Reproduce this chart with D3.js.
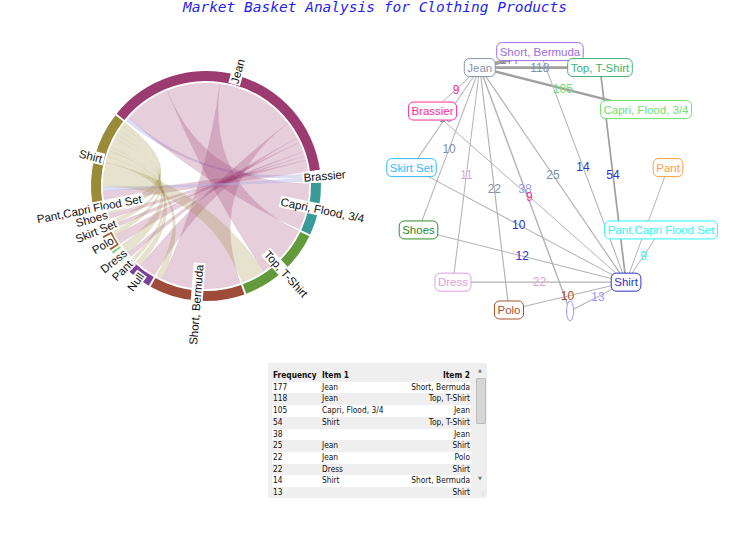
<!DOCTYPE html>
<html>
<head>
<meta charset="utf-8">
<script src="https://cdnjs.cloudflare.com/ajax/libs/d3/7.8.5/d3.min.js"></script>
<style>
  body { margin: 0; background: #fff; font-family: "Liberation Sans", Arial, sans-serif; }
  #wrap { position: relative; width: 754px; height: 550px; }
  #tbl { position: absolute; left: 268px; top: 363px; width: 219px; height: 135px;
         overflow: hidden; background: #efefef; }
  #tbl table { border-collapse: collapse; margin: 7px 0 0 4px; width: 199px;
               font-family: Tahoma, "DejaVu Sans Condensed", "DejaVu Sans", sans-serif; font-size: 8.3px; color: #111; }
  #tbl td, #tbl th { padding: 0 0 0 1px; height: 11.7px; line-height: 11.7px; white-space: nowrap; }
  #tbl th { font-weight: bold; text-align: left; }
  #tbl .r { text-align: right; padding-right: 1px; }
  #tbl tr.odd td { background: #fff; }
  #sb { position: absolute; left: 473px; top: 363px; width: 14px; height: 135px; background: #efefef; }
  #sb .thumb { position: absolute; left: 3px; top: 15px; width: 8px; height: 44px;
               background: #d6d6d6; border: 1px solid #bdbdbd; border-radius: 1px; }
  #sb .arr { position: absolute; left: 0; width: 14px; text-align: center; font-size: 5px; color: #777;
             font-family: "DejaVu Sans", sans-serif; }
  #sb .grip { position: absolute; right: 1px; bottom: 2px; font-size: 6px; color: #aaa;
              font-family: "DejaVu Sans", sans-serif; }
</style>
</head>
<body>
<div id="wrap">
  <svg id="chart" width="754" height="550"></svg>
  <div id="tbl"></div>
  <div id="sb">
    <div class="arr" style="top:4px">&#9650;</div>
    <div class="thumb"></div>
    <div class="arr" style="top:112px">&#9660;</div>
    <div class="grip">&#8942;</div>
  </div>
</div>
<script>
// chord group order (clockwise from the top-left)
const itemNames = ["Jean", "Brassier", "Capri, Flood, 3/4", "Top, T-Shirt", "Short, Bermuda", "",
  "Pant", "Dress", "Polo", "Skirt Set", "Shoes", "Pant,Capri Flood Set", "Shirt"];

// item pairs, sorted by frequency
const pairItem1 = ["Jean", "Jean", "Capri, Flood, 3/4", "Shirt", "", "Jean", "Jean", "Dress", "Shirt", "",
  "Shirt", "Dress", "Jean", "Shirt", "Polo", "Jean", "Brassier", "Brassier", "Pant,Capri Flood Set", "Pant"];
const pairItem2 = ["Short, Bermuda", "Top, T-Shirt", "Jean", "Top, T-Shirt", "Jean", "Shirt", "Polo", "Shirt", "Short, Bermuda", "Shirt",
  "Shoes", "Jean", "Shoes", "Skirt Set", "Shirt", "Skirt Set", "Jean", "Shirt", "Shirt", "Shirt"];
const pairFreq = [177, 118, 105, 54, 38, 25, 22, 22, 14, 13, 12, 11, 10, 10, 10, 10, 9, 9, 9, 8];

// chord arc colours
const chordColors = ["#9b3b6f", "#b4b4e6", "#3a9a98", "#62993a", "#9e4b3a", "#7e3f98",
  "#3a7fa8", "#8ed08e", "#a0622d", "#bcbddc", "#9ecae1", "#c7e9c0", "#9a8b3a"];
const chordLead = ["Brassier", "Jean", "Shirt"];

// network node colours and layout (vis-like unit coords)
const netColors = {
  "Jean": "#8595ab", "Short, Bermuda": "#9a6ee6", "Top, T-Shirt": "#3cb371", "Capri, Flood, 3/4": "#6fe06f",
  "Brassier": "#ff2e93", "Skirt Set": "#2fb9ff", "Pant": "#ff9d3c", "Shoes": "#2e8b2e",
  "Pant,Capri Flood Set": "#2ef6f6", "Dress": "#e09ee0", "Shirt": "#3030cc", "Polo": "#a0522d", "": "#9999ff"
};
const netLayout = {
  "Jean": [-0.43, -0.81], "Short, Bermuda": [-0.086, -0.92], "Top, T-Shirt": [0.257, -0.81],
  "Capri, Flood, 3/4": [0.52, -0.52], "Brassier": [-0.70, -0.51], "Skirt Set": [-0.82, -0.12],
  "Pant": [0.646, -0.12], "Shoes": [-0.78, 0.31], "Pant,Capri Flood Set": [0.606, 0.31],
  "Dress": [-0.583, 0.67], "Shirt": [0.406, 0.67], "Polo": [-0.263, 0.862], "": [0.086, 0.869]
};

const svg = d3.select("#chart");

svg.append("text")
  .attr("x", 375)
  .attr("y", 12)
  .attr("text-anchor", "middle")
  .style("font-family", "'DejaVu Sans Mono', monospace")
  .style("font-style", "italic")
  .style("font-size", "14.5px")
  .attr("fill", "#1f1ff0")
  .text("Market Basket Analysis for Clothing Products");

// ---- chord diagram ----
const n = itemNames.length;
const matrix = d3.range(n).map(() => new Array(n).fill(0));
pairFreq.forEach((f, i) => {
  const a = itemNames.indexOf(pairItem1[i]);
  const b = itemNames.indexOf(pairItem2[i]);
  matrix[a][b] = f;
  matrix[b][a] = f;
});

const rot = -51 * Math.PI / 180;
const outerR = 115, innerR = 105, ribbonR = 103;
const chords = d3.chord().padAngle(0.017)(matrix);

const gc = svg.append("g").attr("transform", "translate(206,186)");

const ribbon = d3.ribbon()
  .radius(ribbonR)
  .startAngle(d => d.startAngle + rot)
  .endAngle(d => d.endAngle + rot);

function chordColor(d) {
  const names = [itemNames[d.source.index], itemNames[d.target.index]];
  const lead = chordLead.find(l => names.includes(l));
  return lead ? chordColors[itemNames.indexOf(lead)] : chordColors[d.source.index];
}

gc.append("g")
  .selectAll("path")
  .data(chords)
  .join("path")
  .attr("d", ribbon)
  .attr("fill", chordColor)
  .attr("fill-opacity", d => itemNames[d.source.index] === "Brassier" || itemNames[d.target.index] === "Brassier" ? 0.45 : 0.25)
  .attr("stroke", chordColor)
  .attr("stroke-opacity", 0.12)
  .attr("stroke-width", 0.5);

const arc = d3.arc()
  .innerRadius(innerR)
  .outerRadius(outerR)
  .startAngle(d => d.startAngle + rot)
  .endAngle(d => d.endAngle + rot);

gc.append("g")
  .selectAll("path")
  .data(chords.groups)
  .join("path")
  .attr("d", arc)
  .attr("fill", d => chordColors[d.index]);

const labelR = 119;
const labels = gc.append("g")
  .selectAll("g")
  .data(chords.groups.slice().reverse())
  .join("g")
  .attr("transform", d => {
    const a = (d.startAngle + d.endAngle) / 2 + rot;
    let deg = a * 180 / Math.PI;
    deg = ((deg % 360) + 360) % 360;
    const x = labelR * Math.sin(a), y = -labelR * Math.cos(a);
    const r = deg < 180 ? deg - 90 : deg - 270;
    return `translate(${x},${y}) rotate(${r})`;
  });

labels.each(function(d) {
  const g = d3.select(this);
  const t = g.append("text")
    .attr("text-anchor", "middle")
    .attr("dy", "0.35em")
    .style("font-size", "11.5px")
    .attr("fill", "#111")
    .text(itemNames[d.index] || "Null");
  const bb = t.node().getBBox();
  g.insert("rect", "text")
    .attr("x", bb.x - 1)
    .attr("y", bb.y)
    .attr("width", bb.width + 2)
    .attr("height", bb.height)
    .attr("fill", "#fff");
});

// ---- network ----
const nx = d3.scaleLinear().domain([-1, 1]).range([380, 730]);
const ny = d3.scaleLinear().domain([-1, 1]).range([40, 330]);
const widthScale = d3.scaleLinear().domain([9, 177]).range([1, 3.6]);

const edges = pairFreq.map((f, i) => ({ a: pairItem1[i], b: pairItem2[i], f }));
const gn = svg.append("g");

gn.append("g")
  .selectAll("line")
  .data(edges)
  .join("line")
  .attr("x1", d => nx(netLayout[d.a][0]))
  .attr("y1", d => ny(netLayout[d.a][1]))
  .attr("x2", d => nx(netLayout[d.b][0]))
  .attr("y2", d => ny(netLayout[d.b][1]))
  .attr("stroke", d => d.f > 50 ? "#a0a0a0" : "#b4b4b4")
  .attr("stroke-width", d => widthScale(d.f));

gn.append("g")
  .selectAll("text")
  .data(edges)
  .join("text")
  .attr("x", d => (nx(netLayout[d.a][0]) + nx(netLayout[d.b][0])) / 2)
  .attr("y", d => (ny(netLayout[d.a][1]) + ny(netLayout[d.b][1])) / 2)
  .attr("dy", "0.35em")
  .attr("text-anchor", "middle")
  .style("font-size", "12px")
  .attr("fill", d => d.a === "Jean" ? "#8090a8" : netColors[d.a])
  .text(d => d.f);

const nodeNames = Object.keys(netLayout);
const nodes = gn.append("g")
  .selectAll("g")
  .data(nodeNames)
  .join("g")
  .attr("transform", d => `translate(${nx(netLayout[d][0])},${ny(netLayout[d][1])})`);

nodes.each(function(d) {
  const g = d3.select(this);
  if (d === "") {
    g.append("ellipse")
      .attr("rx", 3.5)
      .attr("ry", 10)
      .attr("fill", "#fff")
      .attr("stroke", netColors[d]);
    return;
  }
  const t = g.append("text")
    .attr("text-anchor", "middle")
    .attr("dy", "0.35em")
    .style("font-size", "11.5px")
    .attr("fill", netColors[d])
    .text(d);
  const w = t.node().getComputedTextLength() + 6;
  g.insert("rect", "text")
    .attr("x", -w / 2)
    .attr("y", -9)
    .attr("width", w)
    .attr("height", 18)
    .attr("rx", 5)
    .attr("fill", "#fff")
    .attr("stroke", netColors[d]);
});

// ---- table ----
const table = d3.select("#tbl").append("table");
const head = table.append("tr");
head.append("th").style("width", "48px").text("Frequency");
head.append("th").text("Item 1");
head.append("th").attr("class", "r").text("Item 2");
pairFreq.forEach((f, i) => {
  const tr = table.append("tr").attr("class", i % 2 === 0 ? "odd" : "even");
  tr.append("td").text(f);
  tr.append("td").text(pairItem1[i]);
  tr.append("td").attr("class", "r").text(pairItem2[i]);
});
</script>
</body>
</html>
